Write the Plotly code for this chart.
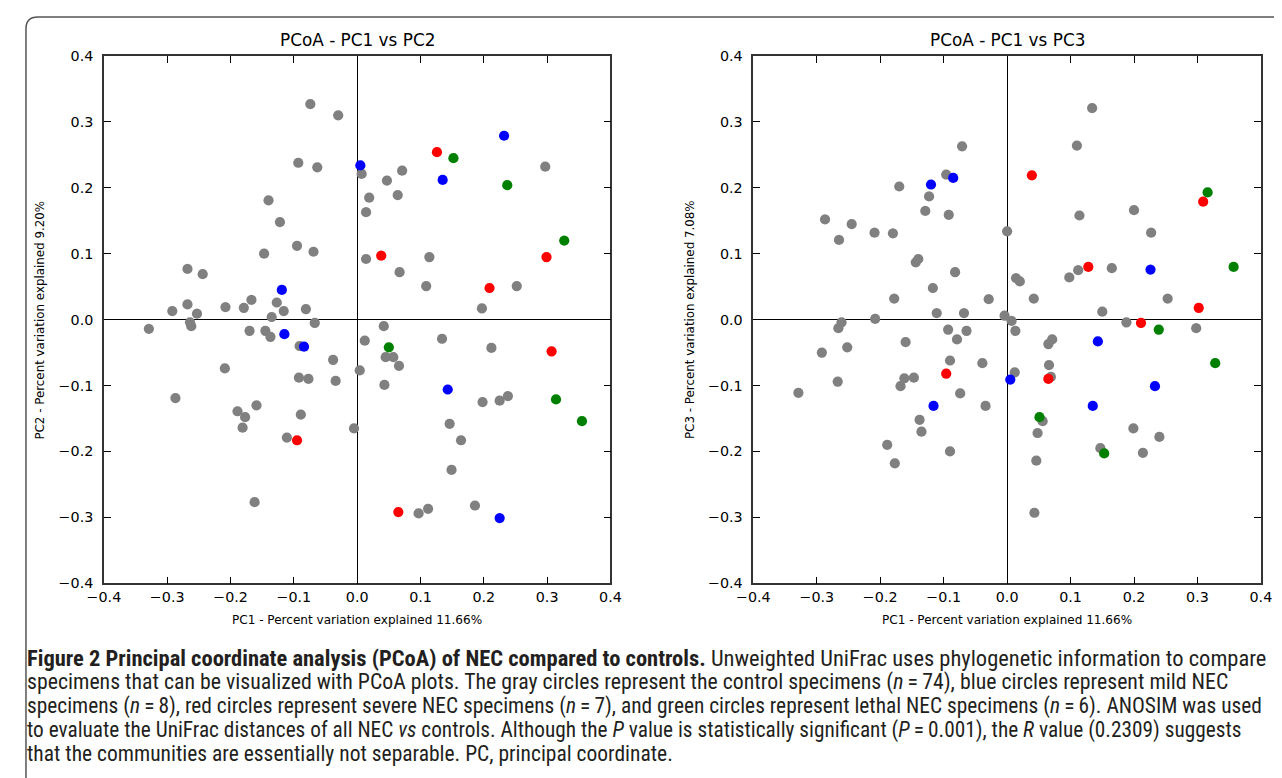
import plotly.graph_objects as go

# ---------------- data ----------------
ctrl_pc1_a = [-0.074, -0.030, -0.093, -0.063, -0.140, -0.122, -0.147, -0.095, -0.069, -0.268,
              -0.244, -0.292, -0.268, -0.253, -0.208, -0.179, -0.167, -0.127, -0.116, -0.081,
              -0.135, 0.007, 0.047, 0.071, 0.019, 0.064, 0.014, 0.297, 0.014, 0.114,
              0.067, 0.109, 0.252, 0.197, -0.329, -0.264, -0.262, -0.170, -0.145, -0.137,
              -0.091, -0.067, -0.038, -0.034, -0.209, -0.287, -0.189, -0.177, -0.181, -0.159,
              -0.092, -0.077, -0.089, -0.111, -0.162, 0.042, 0.012, 0.004, 0.043, 0.045,
              0.057, 0.066, 0.134, 0.212, 0.198, 0.225, 0.238, 0.146, 0.164, 0.149,
              -0.005, 0.097, 0.112, 0.186]
ctrl_pc2 = [0.327, 0.310, 0.238, 0.231, 0.181, 0.148, 0.100, 0.112, 0.103, 0.077,
            0.069, 0.013, 0.023, 0.009, 0.019, 0.018, 0.030, 0.026, 0.013, 0.016,
            0.004, 0.221, 0.211, 0.226, 0.185, 0.189, 0.163, 0.232, 0.092, 0.095,
            0.072, 0.051, 0.051, 0.017, -0.014, -0.004, -0.010, -0.017, -0.017, -0.026,
            -0.040, -0.005, -0.061, -0.093, -0.074, -0.119, -0.139, -0.148, -0.164, -0.130,
            -0.088, -0.090, -0.144, -0.179, -0.277, -0.010, -0.032, -0.077, -0.099, -0.057,
            -0.057, -0.070, -0.029, -0.043, -0.125, -0.123, -0.116, -0.158, -0.183, -0.228,
            -0.165, -0.294, -0.287, -0.282]
mild_pc1_a = [0.005, 0.135, 0.232, -0.119, -0.115, -0.084, 0.143, 0.225]
mild_pc2 = [0.234, 0.212, 0.279, 0.045, -0.022, -0.041, -0.106, -0.301]
severe_pc1_a = [0.126, 0.038, 0.299, 0.209, -0.095, 0.307, 0.065]
severe_pc2 = [0.254, 0.097, 0.095, 0.048, -0.183, -0.048, -0.292]
lethal_pc1_a = [0.152, 0.237, 0.327, 0.050, 0.314, 0.355]
lethal_pc2 = [0.245, 0.204, 0.120, -0.042, -0.121, -0.154]

ctrl_pc1_b = [-0.071, -0.096, -0.170, -0.123, -0.129, -0.092, -0.287, -0.245, -0.265, -0.209,
              -0.180, 0.000, -0.144, -0.140, -0.082, -0.117, -0.178, -0.029, -0.111, -0.068,
              -0.004, -0.208, 0.134, 0.110, 0.114, 0.200, 0.227, 0.112, 0.098, 0.165,
              0.014, 0.020, 0.042, 0.253, 0.150, 0.007, -0.261, -0.266, -0.093, -0.064,
              -0.079, -0.292, -0.252, -0.160, -0.090, -0.039, -0.267, -0.329, -0.162, -0.168,
              -0.147, -0.074, -0.034, -0.138, -0.135, -0.189, -0.090, -0.177, 0.013, 0.188,
              0.298, 0.065, 0.071, 0.066, 0.012, 0.069, 0.056, 0.048, 0.199, 0.240,
              0.147, 0.214, 0.046, 0.043]
ctrl_pc3 = [0.263, 0.220, 0.202, 0.187, 0.165, 0.159, 0.152, 0.145, 0.121, 0.132,
            0.131, 0.134, 0.087, 0.092, 0.072, 0.048, 0.032, 0.031, 0.010, 0.010,
            0.006, 0.001, 0.321, 0.264, 0.158, 0.166, 0.132, 0.075, 0.064, 0.078,
            0.063, 0.058, 0.032, 0.032, 0.012, -0.002, -0.004, -0.013, -0.015, -0.017,
            -0.030, -0.050, -0.042, -0.034, -0.062, -0.066, -0.094, -0.111, -0.089, -0.101,
            -0.088, -0.112, -0.131, -0.152, -0.170, -0.190, -0.200, -0.218, -0.017, -0.004,
            -0.013, -0.037, -0.030, -0.069, -0.080, -0.087, -0.154, -0.172, -0.165, -0.178,
            -0.195, -0.202, -0.214, -0.293]
mild_pc1_b = [-0.085, -0.120, 0.226, 0.143, 0.005, 0.233, 0.135, -0.116]
mild_pc3 = [0.215, 0.205, 0.076, -0.033, -0.091, -0.101, -0.131, -0.131]
severe_pc1_b = [0.039, 0.309, 0.128, 0.302, 0.211, -0.096, 0.065]
severe_pc3 = [0.219, 0.179, 0.080, 0.018, -0.005, -0.082, -0.090]
lethal_pc1_b = [0.316, 0.357, 0.239, 0.328, 0.051, 0.153]
lethal_pc3 = [0.193, 0.080, -0.015, -0.066, -0.148, -0.203]

axis_ticks = [-0.4, -0.3, -0.2, -0.1, 0.0, 0.1, 0.2, 0.3, 0.4]

panel_titles = ["PCoA - PC1 vs PC2", "PCoA - PC1 vs PC3"]
x_title = "PC1 - Percent variation explained 11.66%"
y_titles = ["PC2 - Percent variation explained 9.20%", "PC3 - Percent variation explained 7.08%"]

caption_lines = [
    "<b>Figure 2 Principal coordinate analysis (PCoA) of NEC compared to controls.</b> Unweighted UniFrac uses phylogenetic information to compare",
    "specimens that can be visualized with PCoA plots. The gray circles represent the control specimens (<i>n</i>\u2009=\u200974), blue circles represent mild NEC",
    "specimens (<i>n</i>\u2009=\u20098), red circles represent severe NEC specimens (<i>n</i>\u2009=\u20097), and green circles represent lethal NEC specimens (<i>n</i>\u2009=\u20096). ANOSIM was used",
    "to evaluate the UniFrac distances of all NEC <i>vs</i> controls. Although the <i>P</i> value is statistically significant (<i>P</i>\u2009=\u20090.001), the <i>R</i> value (0.2309) suggests",
    "that the communities are essentially not separable. PC, principal coordinate.",
]

# ---------------- geometry helpers ----------------
SX, BX = 0.979, 16.2
SY, BY = 0.977, 8.3
MARGIN = 8
W, H = 1282, 778
K = 1 / 0.978

def fx(X):
    return ((X - BX) / SX - MARGIN) / W

def fy(Y):
    return 1 - ((Y - BY) / SY - MARGIN) / H

colors = {"ctrl": "#808080", "mild": "#0000ff", "severe": "#ff0000", "lethal": "#008000"}
MS = 10 * K

fig = go.Figure()
panels = [
    ("x", "y", [(ctrl_pc1_a, ctrl_pc2, "ctrl"), (mild_pc1_a, mild_pc2, "mild"),
                (severe_pc1_a, severe_pc2, "severe"), (lethal_pc1_a, lethal_pc2, "lethal")]),
    ("x2", "y2", [(ctrl_pc1_b, ctrl_pc3, "ctrl"), (mild_pc1_b, mild_pc3, "mild"),
                  (severe_pc1_b, severe_pc3, "severe"), (lethal_pc1_b, lethal_pc3, "lethal")]),
]
for xa, ya, groups in panels:
    for xs, ys, key in groups:
        fig.add_trace(go.Scatter(x=xs, y=ys, mode="markers", xaxis=xa, yaxis=ya,
                                 marker=dict(size=MS, color=colors[key], line=dict(width=0)),
                                 showlegend=False, hoverinfo="x+y"))

FONT = "DejaVu Sans, sans-serif"
common = dict(range=[-0.4, 0.4], tickvals=axis_ticks, tickformat=".1f",
              ticks="inside", ticklen=7, tickwidth=1, tickcolor="black",
              mirror="ticks", showline=True, linecolor="#333333", linewidth=1.5,
              showgrid=False, zeroline=True, zerolinecolor="black", zerolinewidth=1,
              tickfont=dict(family=FONT, size=14 * K, color="black"), fixedrange=True)

PANEL_X = [(103, 610), (753, 1261)]
xd1 = [fx(PANEL_X[0][0]), fx(PANEL_X[0][1])]
xd2 = [fx(PANEL_X[1][0]), fx(PANEL_X[1][1])]
yd = [fy(582), fy(56)]

fig.update_layout(
    width=W, height=H,
    margin=dict(l=0, r=0, t=0, b=0),
    paper_bgcolor="white", plot_bgcolor="white",
    xaxis=dict(domain=xd1, anchor="y", **common),
    yaxis=dict(domain=yd, anchor="x", ticklabelstandoff=6, **common),
    xaxis2=dict(domain=xd2, anchor="y2", **common),
    yaxis2=dict(domain=yd, anchor="x2", ticklabelstandoff=6, **common),
)

for i, (xl, xr) in enumerate(PANEL_X):
    xc = (xl + xr) / 2
    fig.add_annotation(text=panel_titles[i], x=fx(xc), y=fy(40), xref="paper", yref="paper",
                       xanchor="center", yanchor="middle", showarrow=False,
                       font=dict(family=FONT, size=16.5 * K, color="black"))
    fig.add_annotation(text=x_title, x=fx(xc), y=fy(619), xref="paper", yref="paper",
                       xanchor="center", yanchor="middle", showarrow=False,
                       font=dict(family=FONT, size=11.8 * K, color="black"))
    fig.add_annotation(text=y_titles[i], x=fx(xl - 64), y=fy(319), xref="paper", yref="paper",
                       xanchor="center", yanchor="middle", textangle=-90, showarrow=False,
                       font=dict(family=FONT, size=11.6 * K, color="black"))

CAP_FONT = "Roboto Condensed, DejaVu Sans Condensed, Liberation Sans, sans-serif"
caption_sizes = [22.5, 21.8, 21.4, 21.3, 21.5]
for i, line in enumerate(caption_lines):
    fig.add_annotation(text=line, x=0.5 / W, y=fy(657 + i * 23.8), xref="paper", yref="paper",
                       xanchor="left", yanchor="middle", showarrow=False,
                       font=dict(family=CAP_FONT, size=caption_sizes[i], color="#231f20"))

r = 12
fig.add_shape(type="path", xref="paper", yref="paper",
              path=(f"M {1 / W},0 L {1 / W},{1 - (1 + r) / H} "
                    f"Q {1 / W},{1 - 1 / H} {(1 + r) / W},{1 - 1 / H} L 1,{1 - 1 / H}"),
              line=dict(color="#555555", width=1.5))

fig.write_html("out.html")
